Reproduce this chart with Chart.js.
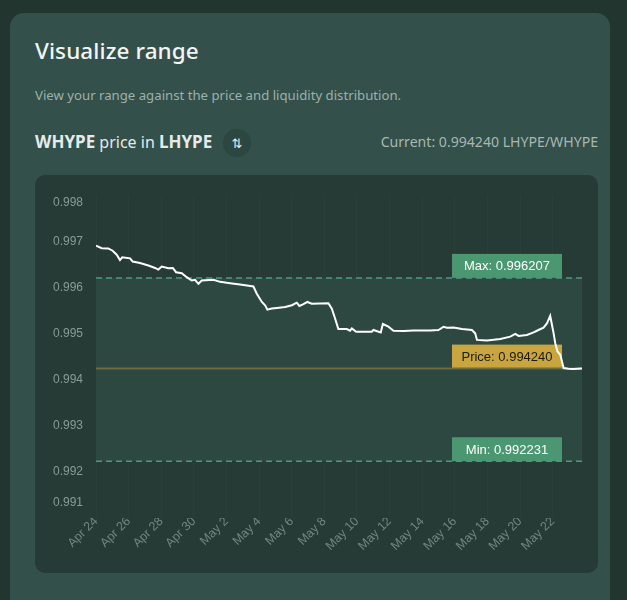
<!DOCTYPE html>
<html>
<head>
<meta charset="utf-8">
<script src="https://cdn.jsdelivr.net/npm/chart.js@4.4.1/dist/chart.umd.min.js"></script>
<style>
  html, body { margin:0; padding:0; }
  body { width:627px; height:600px; background:#22362f; position:relative; overflow:hidden; font-family:"Noto Sans", "DejaVu Sans", sans-serif; }
  .card { position:absolute; left:10px; top:13px; width:600px; height:620px; background:#33504a; border-radius:14px; }
  .title { position:absolute; left:35px; top:38px; font-size:22.5px; line-height:26px; color:#f2f5f4; font-weight:500; letter-spacing:0.1px; }
  .sub { position:absolute; left:35px; top:86px; font-size:13.2px; line-height:18px; color:#9db0aa; }
  .pair { position:absolute; left:35px; top:130px; font-size:16px; line-height:24px; color:#e4ebe9; }
  .pair b { font-weight:700; font-size:17px; }
  .icon { position:absolute; left:223px; top:129px; width:28px; height:28px; border-radius:50%; background:#2c4640; color:#e4ebe9; font-size:13px; line-height:28px; text-align:center; }
  .current { position:absolute; right:29px; top:132px; font-size:14.1px; line-height:20px; color:#a7b7b2; }
  .panel { position:absolute; left:35px; top:175px; width:563px; height:398px; background:#263b36; border-radius:10px; overflow:hidden; }
  canvas { position:absolute; left:0; top:0; }
</style>
</head>
<body>
<div class="card"></div>
<div class="title">Visualize range</div>
<div class="sub">View your range against the price and liquidity distribution.</div>
<div class="pair"><b>WHYPE</b> price in <b>LHYPE</b></div>
<div class="icon">⇅</div>
<div class="current">Current: 0.994240 LHYPE/WHYPE</div>
<div class="panel"><canvas id="c" width="563" height="398"></canvas></div>
<script>
// Days since Apr 24 (0 = Apr 24)
const dayOffsets = [0, 0.35, 0.75, 1.02, 1.27, 1.47, 1.61, 2.09, 2.25, 2.70, 3.21, 3.62, 3.82, 4.03, 4.44, 4.71, 4.91, 5.26, 5.56, 5.87, 6.07, 6.28, 6.48, 7.20, 7.61, 8.22, 8.83, 9.25, 9.65, 9.86, 10.17, 10.37, 10.51, 10.78, 11.09, 11.60, 12.01, 12.31, 12.47, 12.72, 12.96, 13.23, 14.25, 14.46, 14.66, 14.86, 15.38, 15.58, 15.69, 15.95, 16.91, 17.01, 17.46, 17.59, 17.93, 18.24, 18.85, 19.47, 20.49, 21.00, 21.31, 21.52, 21.92, 22.44, 23.05, 23.25, 23.36, 23.97, 24.79, 25.40, 25.71, 25.91, 26.42, 26.83, 27.13, 27.44, 27.65, 27.85, 27.96, 28.06, 28.16, 28.30, 28.47, 28.57, 28.67, 28.97, 29.28, 29.80];
const prices = [0.996904, 0.996852, 0.996845, 0.996796, 0.996710, 0.996594, 0.996652, 0.996631, 0.996560, 0.996530, 0.996474, 0.996422, 0.996388, 0.996452, 0.996416, 0.996422, 0.996330, 0.996308, 0.996222, 0.996151, 0.996164, 0.996078, 0.996151, 0.996164, 0.996121, 0.996093, 0.996065, 0.996044, 0.996022, 0.995863, 0.995685, 0.995614, 0.995519, 0.995541, 0.995556, 0.995577, 0.995614, 0.995670, 0.995599, 0.995636, 0.995685, 0.995648, 0.995657, 0.995541, 0.995326, 0.995098, 0.995098, 0.995062, 0.995111, 0.995040, 0.995040, 0.995077, 0.995025, 0.995206, 0.995148, 0.995062, 0.995055, 0.995068, 0.995068, 0.995077, 0.995148, 0.995126, 0.995133, 0.995098, 0.995077, 0.995004, 0.994862, 0.994847, 0.994883, 0.994933, 0.994991, 0.994948, 0.994969, 0.995025, 0.995077, 0.995126, 0.995219, 0.995384, 0.995184, 0.995004, 0.994789, 0.994610, 0.994539, 0.994395, 0.994251, 0.994239, 0.994230, 0.994240];
const xTickDays = [0, 2, 4, 6, 8, 10, 12, 14, 16, 18, 20, 22, 24, 26, 28];
const xTickLabels = ['Apr 24', 'Apr 26', 'Apr 28', 'Apr 30', 'May 2', 'May 4', 'May 6', 'May 8', 'May 10', 'May 12', 'May 14', 'May 16', 'May 18', 'May 20', 'May 22'];
const yTickValues = [0.991, 0.992, 0.993, 0.994, 0.995, 0.996, 0.997, 0.998];
const xDomain = [0, 29.8];
const rangeMin = 0.992231;
const rangeMax = 0.996207;
const currentPrice = 0.994240;

const series = dayOffsets.map((d, i) => ({ x: d, y: prices[i] }));
const hline = v => [{ x: xDomain[0], y: v }, { x: xDomain[1], y: v }];

const rangePlugin = {
  id: 'rangePlugin',
  beforeDraw(chart) {
    // nudge edge y labels inward like the reference
    const ys = chart.scales.y;
    const items = ys.getLabelItems(chart.chartArea);
    items.forEach(it => {
      if (it.label === '0.998') it.options.translation[1] += 7;
      if (it.label === '0.991') it.options.translation[1] -= 15;
    });
  },
  beforeDatasetsDraw(chart) {
    const { ctx, chartArea, scales } = chart;
    const yMax = scales.y.getPixelForValue(rangeMax);
    const yMin = scales.y.getPixelForValue(rangeMin);
    const yP = scales.y.getPixelForValue(currentPrice);
    ctx.save();
    ctx.fillStyle = '#2c4841';
    ctx.fillRect(chartArea.left, yMax, chartArea.right - chartArea.left, yMin - yMax);
    const bw = 110, bh = 24;
    const bx = chartArea.right - 20 - bw;
    const boxes = [
      { y: yMax, text: 'Max: ' + rangeMax.toFixed(6), bg: '#4a9771', fg: '#ffffff' },
      { y: yP, text: 'Price: ' + currentPrice.toFixed(6), bg: '#c9a53f', fg: '#1c1c14' },
      { y: yMin, text: 'Min: ' + rangeMin.toFixed(6), bg: '#4a9771', fg: '#ffffff' }
    ];
    ctx.font = '13px "Liberation Sans", Arial, sans-serif';
    ctx.textAlign = 'center';
    ctx.textBaseline = 'middle';
    boxes.forEach(b => {
      ctx.fillStyle = b.bg;
      ctx.fillRect(bx, b.y - bh, bw, bh);
      ctx.fillStyle = b.fg;
      ctx.fillText(b.text, bx + bw / 2, b.y - bh / 2 + 1);
    });
    ctx.restore();
  }
};

new Chart(document.getElementById('c'), {
  type: 'line',
  data: {
    datasets: [
      { label: 'Price', data: series, borderColor: '#ffffff', borderWidth: 2, pointRadius: 0, tension: 0, fill: false },
      { label: 'Current', data: hline(currentPrice), borderColor: '#6f6b3c', borderWidth: 2, pointRadius: 0, fill: false },
      { label: 'Max', data: hline(rangeMax), borderColor: '#4b9a7f', borderWidth: 1.5, borderDash: [6, 4], pointRadius: 0, fill: false },
      { label: 'Min', data: hline(rangeMin), borderColor: '#4b9a7f', borderWidth: 1.5, borderDash: [6, 4], pointRadius: 0, fill: false }
    ]
  },
  options: {
    responsive: false,
    animation: false,
    parsing: true,
    layout: { padding: { top: 17, right: 16, left: 0, bottom: 0 } },
    plugins: { legend: { display: false }, tooltip: { enabled: false } },
    scales: {
      x: {
        type: 'linear',
        min: xDomain[0],
        max: xDomain[1],
        afterBuildTicks: s => { s.ticks = xTickDays.map(v => ({ value: v })); },
        afterFit: s => { s.height = 55; },
        ticks: {
          autoSkip: false,
          minRotation: 45,
          maxRotation: 45,
          padding: -4,
          color: '#71857f',
          font: { family: '"Liberation Sans", Arial, sans-serif', size: 12.5 },
          callback: (v) => { const i = xTickDays.indexOf(v); return i >= 0 ? xTickLabels[i] : ''; }
        },
        grid: { color: 'rgba(255,255,255,0.025)', drawTicks: false },
        border: { display: false }
      },
      y: {
        type: 'linear',
        min: yTickValues[0],
        max: yTickValues[yTickValues.length - 1],
        afterBuildTicks: s => { s.ticks = yTickValues.map(v => ({ value: v })); },
        afterFit: s => { s.width = 61; },
        ticks: {
          padding: 13,
          color: '#8a9a95',
          font: { family: '"Liberation Sans", Arial, sans-serif', size: 12 },
          callback: v => Number(v).toFixed(3)
        },
        grid: { display: false, drawTicks: false },
        border: { display: false }
      }
    }
  },
  plugins: [rangePlugin]
});
</script>
</body>
</html>
